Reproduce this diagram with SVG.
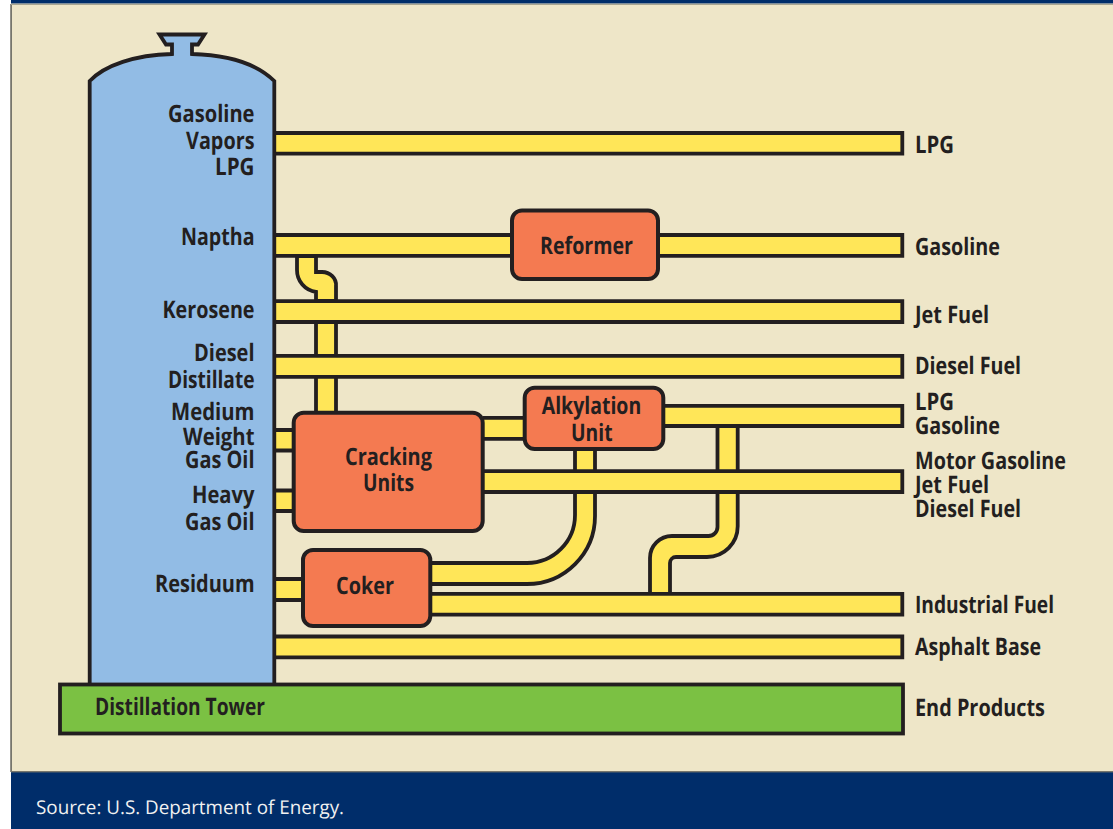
<svg xmlns="http://www.w3.org/2000/svg" width="1113" height="829" viewBox="0 0 1113 829">
<style>
.p{fill:#FFE658;stroke:#231F20;stroke-width:3.8;stroke-linejoin:miter}
.l{fill:none;stroke:#231F20;stroke-width:3.8}
.b{fill:#F47A51;stroke:#231F20;stroke-width:4}
text{font-family:"Open Sans","Noto Sans","Liberation Sans",sans-serif;font-size:24px;font-weight:700;fill:#231F20;text-rendering:geometricPrecision}
.e{text-anchor:end}
</style>
<rect width="1113" height="829" fill="#FFFFFF"/>
<rect x="11" y="4" width="1102" height="768" fill="#EEE6C8"/>
<rect x="10.2" y="4" width="1.8" height="768" fill="#77766C"/>
<rect x="11" y="0" width="1102" height="3.6" fill="#002D6A"/>
<rect x="11" y="3.6" width="1102" height="1.4" fill="#A9A692"/>
<rect x="11" y="771" width="1102" height="58" fill="#002D6A"/>
<rect x="11" y="771" width="1102" height="1.4" fill="#77766C"/>
<g id="connectors">
<path class="p" d="M274 133H902.3V153.7H274"/>
<path class="p" d="M297 256V270A22 22 0 0 0 316 292V301H336V286A14 13 0 0 0 322 272H316V256Z"/>
<path class="p" d="M274 235H902.3V255.8H274"/>
<rect x="316" y="320" width="20" height="95" fill="#FFE658"/>
<path class="l" d="M316 322V357M336 322V357M316 377V413M336 377V413"/>
<path class="p" d="M274 301.2H902.3V322H274"/>
<path class="p" d="M274 355.8H902.3V376.8H274"/>
<path class="p" d="M274 430H295V450.5H274"/>
<path class="p" d="M274 490.5H295V511H274"/>
<path class="p" d="M274 579H305V600H274"/>
<path class="p" d="M483 417.8H526V438.8H483"/>
<path class="p" d="M575 447V473H595V447"/>
<path class="p" d="M717.5 424V473H737.7V424"/>
<path class="p" d="M660 405.8H902.3V426H660"/>
<path class="p" d="M575 490V515A48 48 0 0 1 527 563H428V584H527A68 68 0 0 0 595 516V490"/>
<path class="p" d="M717.5 490V527A9 9 0 0 1 708.5 536H672A22 22 0 0 0 650 558V596H670V563A6 6 0 0 1 676 557H707A30.7 30.7 0 0 0 737.7 526V490"/>
<path class="p" d="M481 471.2H902.3V492H481"/>
<path class="p" d="M428 593.8H902.3V614.7H428"/>
<path class="p" d="M274 636.5H902.3V657.3H274"/>
</g>
<g id="tower">
<path d="M89.7 686V81C105 65 135 55 172 54V44.5H166L159.5 34.5H204.5L198 44.5H192V54C230 55 258 65 274.3 81V686" fill="#92BCE5" stroke="#231F20" stroke-width="3.8"/>
<text class="e" x="254.5" y="122" textLength="86.5" lengthAdjust="spacingAndGlyphs">Gasoline</text>
<text class="e" x="254.5" y="148.5" textLength="68.5" lengthAdjust="spacingAndGlyphs">Vapors</text>
<text class="e" x="254.5" y="175" textLength="39.5" lengthAdjust="spacingAndGlyphs">LPG</text>
<text class="e" x="254.5" y="245" textLength="73.5" lengthAdjust="spacingAndGlyphs">Naptha</text>
<text class="e" x="254.5" y="317.5" textLength="92" lengthAdjust="spacingAndGlyphs">Kerosene</text>
<text class="e" x="254.5" y="361" textLength="60.5" lengthAdjust="spacingAndGlyphs">Diesel</text>
<text class="e" x="254.5" y="388" textLength="86.5" lengthAdjust="spacingAndGlyphs">Distillate</text>
<text class="e" x="254.5" y="420" textLength="83.5" lengthAdjust="spacingAndGlyphs">Medium</text>
<text class="e" x="254.5" y="444.5" textLength="71.5" lengthAdjust="spacingAndGlyphs">Weight</text>
<text class="e" x="254.5" y="468" textLength="69.5" lengthAdjust="spacingAndGlyphs">Gas Oil</text>
<text class="e" x="254.5" y="503" textLength="62.5" lengthAdjust="spacingAndGlyphs">Heavy</text>
<text class="e" x="254.5" y="530" textLength="69.5" lengthAdjust="spacingAndGlyphs">Gas Oil</text>
<text class="e" x="254.5" y="592" textLength="99.5" lengthAdjust="spacingAndGlyphs">Residuum</text>
</g>
<g id="reformer">
<rect class="b" x="512" y="210.5" width="146" height="68.5" rx="10"/>
<text x="540" y="254" textLength="93" lengthAdjust="spacingAndGlyphs">Reformer</text>
</g>
<g id="cracking-units">
<rect class="b" x="293.7" y="412.7" width="189" height="118.3" rx="10"/>
<text x="345" y="465" textLength="87" lengthAdjust="spacingAndGlyphs">Cracking</text>
<text x="363" y="491" textLength="51" lengthAdjust="spacingAndGlyphs">Units</text>
</g>
<g id="alkylation-unit">
<rect class="b" x="524.7" y="387.7" width="138.6" height="61.3" rx="10"/>
<text x="541.7" y="414" textLength="99.5" lengthAdjust="spacingAndGlyphs">Alkylation</text>
<text x="571" y="440.5" textLength="41.5" lengthAdjust="spacingAndGlyphs">Unit</text>
</g>
<g id="coker">
<rect class="b" x="303" y="550" width="127.3" height="76" rx="10"/>
<text x="336" y="593.5" textLength="58" lengthAdjust="spacingAndGlyphs">Coker</text>
</g>
<g id="base">
<rect x="60" y="684.5" width="843" height="49" fill="#7BC143" stroke="#231F20" stroke-width="3.8"/>
<text x="95" y="715" textLength="170" lengthAdjust="spacingAndGlyphs">Distillation Tower</text>
</g>
<g id="products">
<text x="915" y="152.5" textLength="39" lengthAdjust="spacingAndGlyphs">LPG</text>
<text x="915" y="254.5" textLength="85" lengthAdjust="spacingAndGlyphs">Gasoline</text>
<text x="915" y="322.5" textLength="74" lengthAdjust="spacingAndGlyphs">Jet Fuel</text>
<text x="915" y="374" textLength="106" lengthAdjust="spacingAndGlyphs">Diesel Fuel</text>
<text x="915" y="409.5" textLength="39" lengthAdjust="spacingAndGlyphs">LPG</text>
<text x="915" y="433.5" textLength="85" lengthAdjust="spacingAndGlyphs">Gasoline</text>
<text x="915" y="468.7" textLength="151" lengthAdjust="spacingAndGlyphs">Motor Gasoline</text>
<text x="915" y="492.7" textLength="74" lengthAdjust="spacingAndGlyphs">Jet Fuel</text>
<text x="915" y="516.7" textLength="106" lengthAdjust="spacingAndGlyphs">Diesel Fuel</text>
<text x="915" y="612.7" textLength="139" lengthAdjust="spacingAndGlyphs">Industrial Fuel</text>
<text x="915" y="655" textLength="126" lengthAdjust="spacingAndGlyphs">Asphalt Base</text>
<text x="915" y="715.7" textLength="130" lengthAdjust="spacingAndGlyphs">End Products</text>
</g>
<text x="36" y="814" textLength="308" lengthAdjust="spacingAndGlyphs" style="font-size:19px;font-weight:400;fill:#F1F1F1">Source: U.S. Department of Energy.</text>
</svg>
